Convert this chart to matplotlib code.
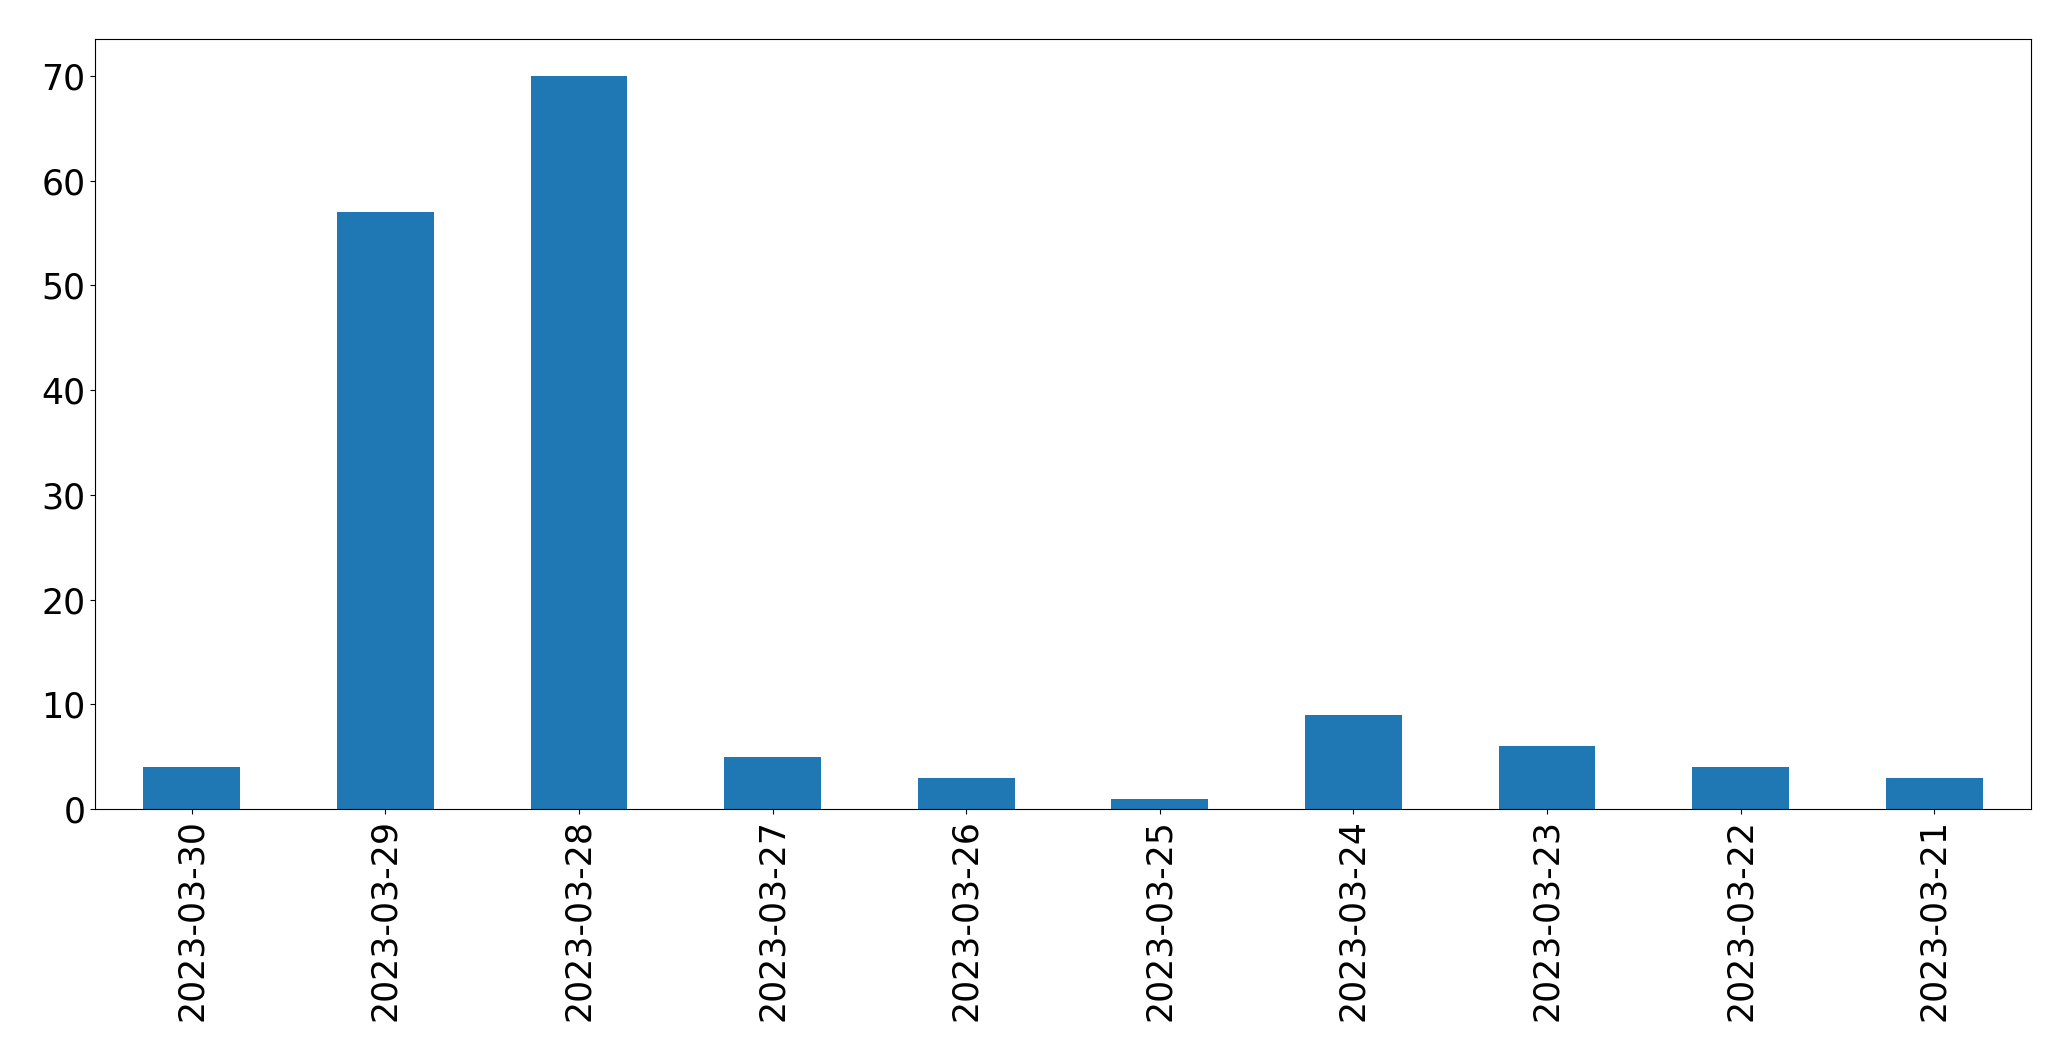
import matplotlib
matplotlib.use('Agg')
import matplotlib.pyplot as plt
import pandas as pd

dates = ['2023-03-30', '2023-03-29', '2023-03-28', '2023-03-27', '2023-03-26',
         '2023-03-25', '2023-03-24', '2023-03-23', '2023-03-22', '2023-03-21']
counts = [4, 57, 70, 5, 3, 1, 9, 6, 4, 3]

s = pd.Series(counts, index=dates)

fig, ax = plt.subplots(figsize=(20.71, 10.61), dpi=100)
s.plot(kind='bar', ax=ax, color='#1f77b4', fontsize=25)
fig.subplots_adjust(left=0.0459, right=0.9807, bottom=0.2375, top=0.963)
fig.savefig('out.png', dpi=100)
